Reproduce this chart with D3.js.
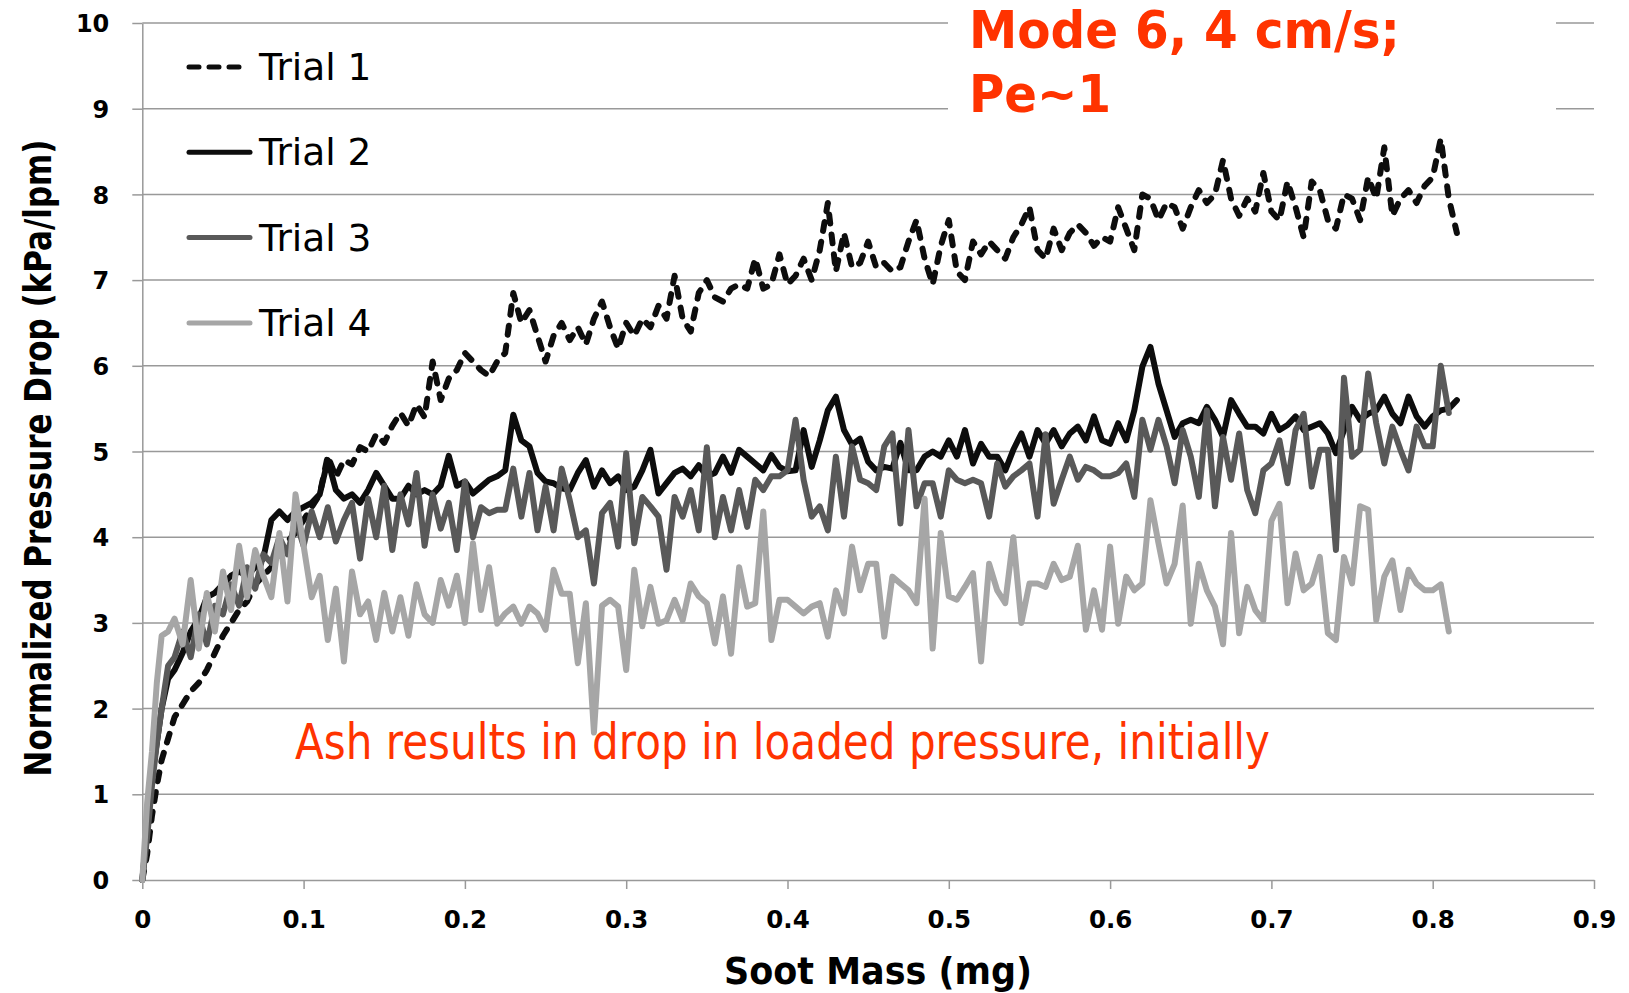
<!DOCTYPE html>
<html>
<head>
<meta charset="utf-8">
<script src="https://cdn.jsdelivr.net/npm/d3@7"></script>
<style>
  body { margin: 0; background: #fff; }
  svg { display: block; font-family: "DejaVu Sans", Verdana, sans-serif; }
</style>
</head>
<body>
<svg id="chart" width="1629" height="993"></svg>
<script>
// Soot mass (mg) sample points shared by all trials
const sootMass = [
  0, 0.003, 0.006, 0.009, 0.012, 0.016, 0.02, 0.025, 0.03, 0.035,
  0.04, 0.045, 0.05, 0.055, 0.06, 0.065, 0.07, 0.075, 0.08, 0.085,
  0.09, 0.095, 0.1, 0.105, 0.11, 0.115, 0.12, 0.125, 0.13, 0.135,
  0.14, 0.145, 0.15, 0.155, 0.16, 0.165, 0.17, 0.175, 0.18, 0.185,
  0.19, 0.195, 0.2, 0.205, 0.21, 0.215, 0.22, 0.225, 0.23, 0.235,
  0.24, 0.245, 0.25, 0.255, 0.26, 0.265, 0.27, 0.275, 0.28, 0.285,
  0.29, 0.295, 0.3, 0.305, 0.31, 0.315, 0.32, 0.325, 0.33, 0.335,
  0.34, 0.345, 0.35, 0.355, 0.36, 0.365, 0.37, 0.375, 0.38, 0.385,
  0.39, 0.395, 0.4, 0.405, 0.41, 0.415, 0.42, 0.425, 0.43, 0.435,
  0.44, 0.445, 0.45, 0.455, 0.46, 0.465, 0.47, 0.475, 0.48, 0.485,
  0.49, 0.495, 0.5, 0.505, 0.51, 0.515, 0.52, 0.525, 0.53, 0.535,
  0.54, 0.545, 0.55, 0.555, 0.56, 0.565, 0.57, 0.575, 0.58, 0.585,
  0.59, 0.595, 0.6, 0.605, 0.61, 0.615, 0.62, 0.625, 0.63, 0.635,
  0.64, 0.645, 0.65, 0.655, 0.66, 0.665, 0.67, 0.675, 0.68, 0.685,
  0.69, 0.695, 0.7, 0.705, 0.71, 0.715, 0.72, 0.725, 0.73, 0.735,
  0.74, 0.745, 0.75, 0.755, 0.76, 0.765, 0.77, 0.775, 0.78, 0.785,
  0.79, 0.795, 0.8, 0.805, 0.81, 0.815
];

// Normalized pressure drop (kPa/lpm) per trial
const trial1 = [
  0, 0.3, 0.75, 1.1, 1.4, 1.65, 1.9, 2.05, 2.2, 2.3,
  2.45, 2.65, 2.85, 3.0, 3.15, 3.25, 3.45, 3.55, 3.65, 3.8,
  3.95, 4.05, 4.2, 4.35, 4.5, 4.95, 4.7, 4.9, 4.85, 5.05,
  5.0, 5.2, 5.1, 5.3, 5.45, 5.3, 5.55, 5.4, 6.05, 5.6,
  5.85, 5.95, 6.15, 6.05, 5.95, 5.88, 6.05, 6.15, 6.85, 6.5,
  6.65, 6.35, 6.05, 6.35, 6.5, 6.3, 6.45, 6.25, 6.55, 6.75,
  6.45, 6.2, 6.5, 6.35, 6.55, 6.45, 6.7, 6.55, 7.05, 6.55,
  6.4, 6.85, 7.0, 6.8, 6.75, 6.9, 6.95, 6.9, 7.25, 6.9,
  6.95, 7.3, 6.95, 7.05, 7.25, 7.0, 7.35, 7.9, 7.1, 7.55,
  7.15, 7.2, 7.45, 7.15, 7.2, 7.1, 7.15, 7.45, 7.7, 7.25,
  6.95, 7.4, 7.7, 7.1, 7.0, 7.45, 7.3, 7.45, 7.35, 7.25,
  7.5, 7.65, 7.85, 7.35, 7.25, 7.6, 7.35, 7.55, 7.65, 7.55,
  7.4, 7.5, 7.45, 7.85, 7.6, 7.35, 8.0, 7.95, 7.7, 7.9,
  7.85, 7.6, 7.85, 8.05, 7.9, 8.0, 8.4, 7.95, 7.75, 7.95,
  7.8, 8.25, 7.8, 7.7, 8.15, 7.85, 7.5, 8.15, 8.05, 7.7,
  7.6, 8.0, 7.95, 7.7, 8.2, 7.95, 8.55, 7.75, 7.95, 8.05,
  7.9, 8.1, 8.2, 8.65, 7.95, 7.55
];
const trial2 = [
  0, 0.6, 1.2, 1.6, 2.0, 2.35, 2.45, 2.65, 2.9, 3.05,
  3.3, 3.35, 3.45, 3.55, 3.6, 3.55, 3.65, 3.75, 4.2, 4.3,
  4.2, 4.3, 4.35, 4.4, 4.5, 4.9, 4.55, 4.45, 4.5, 4.4,
  4.55, 4.75, 4.6, 4.45, 4.45, 4.6, 4.5, 4.55, 4.5, 4.6,
  4.95, 4.6, 4.65, 4.51, 4.59, 4.67, 4.71, 4.78, 5.43, 5.13,
  5.06, 4.75, 4.65, 4.63, 4.57, 4.55, 4.75, 4.9, 4.59, 4.78,
  4.63, 4.71, 4.55, 4.59, 4.78, 5.02, 4.51, 4.63, 4.75, 4.8,
  4.71, 4.84, 4.71, 4.75, 4.94, 4.75, 5.02, 4.94, 4.86, 4.78,
  4.96, 4.82, 4.77, 4.78, 5.25, 4.82, 5.13, 5.48, 5.64, 5.25,
  5.08, 5.15, 4.88, 4.78, 4.82, 4.8, 5.1, 4.78, 4.78, 4.94,
  5.0, 4.94, 5.13, 4.94, 5.25, 4.86, 5.09, 4.94, 4.94, 4.78,
  5.02, 5.21, 4.94, 5.25, 5.09, 5.25, 5.06, 5.21, 5.29, 5.13,
  5.41, 5.13, 5.09, 5.33, 5.13, 5.48, 5.99, 6.22, 5.79, 5.48,
  5.17, 5.33, 5.37, 5.33, 5.52, 5.37, 5.17, 5.6, 5.44, 5.29,
  5.29, 5.21, 5.44, 5.25, 5.31, 5.41, 5.25, 5.29, 5.33, 5.21,
  4.98, 5.25, 5.52, 5.37, 5.44, 5.48, 5.64, 5.44, 5.33, 5.64,
  5.41, 5.29, 5.41, 5.48, 5.5, 5.6
];
const trial3 = [
  0, 0.5, 1.1, 1.6, 2.0, 2.5, 2.6, 2.9, 2.6, 3.1,
  2.75, 3.2, 3.1, 3.45, 3.2, 3.65, 3.4, 3.8, 3.7, 4.0,
  3.8, 4.2, 3.9, 4.3, 4.0, 4.35, 3.95, 4.2, 4.4, 3.75,
  4.45, 4.0, 4.6, 3.85, 4.5, 4.15, 4.75, 3.9, 4.5, 4.1,
  4.4, 3.85, 4.65, 4.0, 4.35, 4.28, 4.32, 4.32, 4.8, 4.24,
  4.75, 4.08, 4.59, 4.08, 4.8, 4.43, 4.0, 4.08, 3.46, 4.28,
  4.4, 3.89, 4.98, 3.93, 4.47, 4.36, 4.24, 3.62, 4.47, 4.24,
  4.55, 4.08, 5.05, 4.0, 4.47, 4.08, 4.55, 4.12, 4.67, 4.55,
  4.71, 4.71, 4.78, 5.37, 4.67, 4.24, 4.36, 4.08, 4.94, 4.24,
  5.06, 4.67, 4.63, 4.55, 5.06, 5.21, 4.16, 5.25, 4.36, 4.63,
  4.63, 4.24, 4.78, 4.67, 4.63, 4.67, 4.63, 4.24, 4.86, 4.59,
  4.71, 4.78, 4.86, 4.24, 5.2, 4.39, 4.67, 4.94, 4.67, 4.82,
  4.78, 4.71, 4.71, 4.75, 4.86, 4.47, 5.37, 5.02, 5.37, 5.06,
  4.63, 5.25, 4.94, 4.47, 5.48, 4.36, 5.17, 4.67, 5.21, 4.55,
  4.28, 4.78, 4.86, 5.13, 4.63, 5.25, 5.44, 4.59, 5.02, 5.02,
  3.85, 5.86, 4.94, 5.02, 5.91, 5.33, 4.86, 5.29, 5.02, 4.78,
  5.29, 5.06, 5.06, 6.0, 5.45, null
];
const trial4 = [
  0, 0.9, 1.5, 2.3, 2.85, 2.9, 3.05, 2.75, 3.5, 2.7,
  3.35, 2.9, 3.6, 3.15, 3.9, 3.3, 3.85, 3.55, 3.3, 4.05,
  3.25, 4.5, 3.9, 3.3, 3.55, 2.8, 3.4, 2.55, 3.6, 3.1,
  3.25, 2.8, 3.35, 2.9, 3.3, 2.85, 3.45, 3.1, 3.0, 3.5,
  3.2, 3.55, 3.0, 3.93, 3.15, 3.65, 2.99, 3.11, 3.19, 2.99,
  3.19, 3.11, 2.92, 3.62, 3.34, 3.34, 2.53, 3.23, 1.72, 3.2,
  3.27, 3.19, 2.45, 3.62, 2.96, 3.42, 2.99, 3.03, 3.27, 3.03,
  3.46, 3.31, 3.23, 2.76, 3.31, 2.64, 3.65, 3.19, 3.23, 4.3,
  2.8, 3.27, 3.27, 3.19, 3.11, 3.19, 3.23, 2.84, 3.38, 3.11,
  3.89, 3.38, 3.69, 3.69, 2.84, 3.54, 3.46, 3.38, 3.23, 4.45,
  2.7, 4.05, 3.31, 3.27, 3.42, 3.58, 2.55, 3.69, 3.38, 3.23,
  4.0, 3.0, 3.46, 3.46, 3.42, 3.69, 3.5, 3.54, 3.9, 2.92,
  3.38, 2.92, 3.89, 2.99, 3.54, 3.38, 3.46, 4.43, 3.93, 3.46,
  3.69, 4.37, 2.99, 3.69, 3.38, 3.19, 2.75, 4.05, 2.88, 3.42,
  3.15, 3.03, 4.19, 4.39, 3.23, 3.81, 3.38, 3.46, 3.77, 2.88,
  2.8, 3.77, 3.46, 4.36, 4.32, 3.03, 3.54, 3.73, 3.15, 3.62,
  3.46, 3.38, 3.38, 3.45, 2.9, null
];

const trialNames = ['Trial 1', 'Trial 2', 'Trial 3', 'Trial 4'];
const trialColors = ['#0d0d0d', '#0d0d0d', '#595959', '#a6a6a6'];
const trialDashes = ['9,11', null, null, null];
const xTicks = [0, 0.1, 0.2, 0.3, 0.4, 0.5, 0.6, 0.7, 0.8, 0.9];
const yTicks = [0, 1, 2, 3, 4, 5, 6, 7, 8, 9, 10];

const series = [trial1, trial2, trial3, trial4].map((vals, i) => ({
    name: trialNames[i],
    color: trialColors[i],
    dash: trialDashes[i],
    values: sootMass.map((m, j) => [m, vals[j]])
}));

const svg = d3.select('#chart');
const gridColor = '#999';

const x = d3.scaleLinear().domain([0, 0.9]).range([142.3, 1594]);
const y = d3.scaleLinear().domain([0, 10]).range([880, 23]);

// horizontal gridlines
svg.append('g')
    .selectAll('line')
    .data(yTicks.filter(d => d > 0))
    .join('line')
    .attr('x1', x(0)).attr('x2', x(0.9))
    .attr('y1', d => y(d)).attr('y2', d => y(d))
    .attr('stroke', gridColor)
    .attr('stroke-width', 1.5);

// y axis
const yAxis = svg.append('g')
    .attr('transform', `translate(${x(0)},0)`)
    .call(d3.axisLeft(y).tickValues(yTicks).tickSize(10).tickSizeOuter(0).tickPadding(23));

// x axis
const xAxis = svg.append('g')
    .attr('transform', `translate(0,${y(0)})`)
    .call(d3.axisBottom(x).tickValues(xTicks).tickSize(9).tickSizeOuter(0).tickPadding(22)
        .tickFormat(d => d === 0 ? '0' : d3.format('.1f')(d)));

[yAxis, xAxis].forEach(ax => {
    ax.select('.domain').attr('stroke', gridColor).attr('stroke-width', 1.5);
    ax.selectAll('.tick line').attr('stroke', gridColor).attr('stroke-width', 1.5);
    ax.selectAll('.tick text')
        .attr('fill', '#000')
        .style('font-family', '"DejaVu Sans", Verdana, sans-serif')
        .style('font-weight', 'bold');
});
yAxis.selectAll('.tick text').style('font-size', '24px').attr('dy', '0.36em');
xAxis.selectAll('.tick text').style('font-size', '24.5px');

// white box behind the title (hides the top gridlines there)
svg.append('rect')
    .attr('x', 948).attr('y', 0)
    .attr('width', 608).attr('height', 125)
    .attr('fill', '#fff');

// data lines
const line = d3.line()
    .defined(d => d[1] != null)
    .x(d => x(d[0]))
    .y(d => y(d[1]));

svg.append('g')
    .selectAll('path')
    .data(series)
    .join('path')
    .attr('d', d => line(d.values))
    .attr('fill', 'none')
    .attr('stroke', d => d.color)
    .attr('stroke-width', 6)
    .attr('stroke-linejoin', 'round')
    .attr('stroke-linecap', 'round')
    .attr('stroke-dasharray', d => d.dash);

// legend
const legend = svg.append('g');
const legendItems = legend.selectAll('g')
    .data(series)
    .join('g')
    .attr('transform', (d, i) => `translate(0,${67 + i * 85.3})`);

legendItems.append('line')
    .attr('x1', 189)
    .attr('x2', (d, i) => i === 0 ? 242 : 250)
    .attr('y1', 0).attr('y2', 0)
    .attr('stroke', d => d.color)
    .attr('stroke-width', 5)
    .attr('stroke-linecap', 'round')
    .attr('stroke-dasharray', (d, i) => i === 0 ? '10,10' : null);

legendItems.append('text')
    .attr('x', 259)
    .attr('y', 13)
    .style('font-size', '37.5px')
    .attr('fill', '#000')
    .text(d => d.name);

// axis titles
svg.append('text')
    .attr('transform', 'translate(51,458) rotate(-90)')
    .attr('text-anchor', 'middle')
    .attr('textLength', 637)
    .attr('lengthAdjust', 'spacingAndGlyphs')
    .style('font-size', '37px')
    .style('font-weight', 'bold')
    .text('Normalized Pressure Drop (kPa/lpm)');

svg.append('text')
    .attr('x', 878)
    .attr('y', 984)
    .attr('text-anchor', 'middle')
    .attr('textLength', 308)
    .attr('lengthAdjust', 'spacingAndGlyphs')
    .style('font-size', '38px')
    .style('font-weight', 'bold')
    .text('Soot Mass (mg)');

// annotations
const noteColor = '#ff3300';
svg.append('text')
    .attr('x', 969).attr('y', 48)
    .attr('textLength', 431)
    .attr('lengthAdjust', 'spacingAndGlyphs')
    .attr('fill', noteColor)
    .style('font-size', '52px')
    .style('font-weight', 'bold')
    .text('Mode 6, 4 cm/s;');

svg.append('text')
    .attr('x', 969).attr('y', 112)
    .attr('textLength', 142)
    .attr('lengthAdjust', 'spacingAndGlyphs')
    .attr('fill', noteColor)
    .style('font-size', '52px')
    .style('font-weight', 'bold')
    .text('Pe~1');

svg.append('text')
    .attr('x', 295).attr('y', 759)
    .attr('textLength', 975)
    .attr('lengthAdjust', 'spacingAndGlyphs')
    .attr('fill', noteColor)
    .style('font-size', '49px')
    .text('Ash results in drop in loaded pressure, initially');
</script>
</body>
</html>
